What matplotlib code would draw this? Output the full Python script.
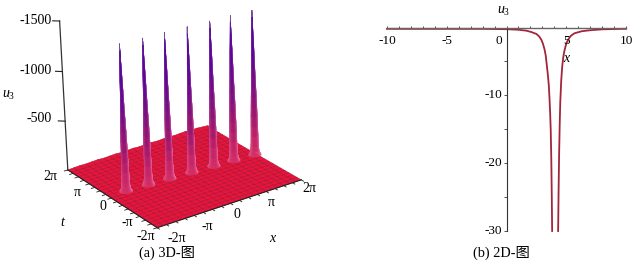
import numpy as np
import matplotlib
matplotlib.use("Agg")
import matplotlib.pyplot as plt
from matplotlib.colors import LinearSegmentedColormap

plt.rcParams['font.family'] = ['Liberation Serif', 'Noto Sans CJK SC', 'DejaVu Sans']
plt.rcParams['mathtext.fontset'] = 'custom'
plt.rcParams['mathtext.it'] = 'Liberation Serif:italic'
plt.rcParams['mathtext.rm'] = 'Liberation Serif'

PI = np.pi
W, H = 640, 264

# 3D panel values
spike_x = [-4.82, -2.95, -1.16, 0.7, 2.6, 4.33, 6.15]
spike_t = [0.33, 0.2, 0.1, -0.05, -0.15, -0.25, -0.4]
profile_z = [0, 25, 60, 100, 200, 300, 400, 500, 600, 700, 800, 900, 1000, 1100, 1200, 1300, 1400, 1460]
profile_r = [0.48, 0.36, 0.31, 0.29, 0.27, 0.255, 0.24, 0.22, 0.2, 0.175, 0.15, 0.13, 0.11, 0.09, 0.065, 0.042, 0.02, 0.004]
back_ripple = [0, -3, -6, -4, -7, -10, -6, -9, -12, -8, -11, -14, -10, -13, -16, -11, -14, -18, -13, -16, -20, -14, -17, -12, -8]
z_ticks = [-500, -1000, -1500]
z_labels = ['-500', '-1000', '-1500']
t_labels = ['2π', 'π', '0', '-π', '-2π']
x_labels = ['-2π', '-π', '0', 'π', '2π']

# 2D panel values
curve_x = [-10, -5, -2, 0, 1, 1.67, 2.1, 2.51, 2.75, 2.93, 3.05, 3.18, 3.28, 3.37, 3.45, 3.54, 3.6, 3.65, 3.7, 3.75, 3.79, 3.82]
curve_y = [-0.2, -0.2, -0.2, -0.25, -0.33, -0.47, -0.68, -0.96, -1.35, -1.85, -2.4, -3.2, -4.1, -5.5, -6.8, -8.5, -10.5, -12.5, -15, -19.5, -25, -30]
curve2_x = [4.32, 4.36, 4.4, 4.45, 4.5, 4.58, 4.66, 4.75, 4.85, 5.0, 5.13, 5.4, 5.69, 6.3, 6.95, 8, 9.7, 10]
curve2_y = [-30, -24, -19, -14.5, -11, -7.8, -5.8, -4.4, -3.4, -2.4, -1.85, -1.2, -0.85, -0.55, -0.41, -0.27, -0.2, -0.2]
xtick_labels = ['-10', '-5', '0', '5', '10']
ytick_labels = ['-10', '-20', '-30']

fig = plt.figure(figsize=(W / 100, H / 100), dpi=100)

# camera found by fitting the floor corners of the picture
AZIM = -123.34
ax = fig.add_axes([36.3 / W, 18.3 / H, 282 / W, 282 / H], projection='3d', computed_zorder=False)
ax.set_xlim(-2 * PI, 2 * PI)
ax.set_ylim(-2 * PI, 2 * PI)
ax.set_zlim(0, -1500)
ax.view_init(elev=23.86, azim=AZIM, roll=1.96)
ax.set_proj_type('persp', focal_length=1.635)
ax.set_box_aspect((1, 0.947, 0.942))
ax.set_axis_off()

# floor
n = len(back_ripple)
g = np.linspace(-2 * PI, 2 * PI, n)
GX, GT = np.meshgrid(g, g)
GZ = np.zeros_like(GX)
GZ[-1, :] = back_ripple
ax.plot_surface(GX, GT, GZ, color='#e8143c', edgecolor='#a80f30', linewidth=0.35, shade=False,
                rcount=n, ccount=n, zorder=2)

# spikes
cmap = LinearSegmentedColormap.from_list('spike', [(0, '#fa3a78'), (0.08, '#e62a78'), (0.25, '#b81a80'),
                                                   (0.45, '#8a1296'), (0.65, '#6a08b0'), (0.85, '#5c0cb4'),
                                                   (0.95, '#9468b8'), (1, '#b5b5b5')])
ang = np.linspace(0, 2 * PI, 25)
prof_z = np.array(profile_z, float)
prof_r = np.array(profile_r)
A, Zp = np.meshgrid(ang, prof_z)
R = np.tile(prof_r[:, None], (1, len(ang)))
side = np.sin(A - np.radians(AZIM))
mix = np.abs(side) ** 3 * np.where(side > 0, 0.6, 0.3)
pale = np.array([1.0, 0.62, 0.85])
cols = cmap(Zp / 1500)
cols[..., :3] = cols[..., :3] * 0.85 * (1 - mix[..., None]) + pale * mix[..., None]
for k in range(len(spike_x)):
    ax.plot_surface(spike_x[k] + R * np.cos(A), spike_t[k] + R * np.sin(A), -Zp, facecolors=cols,
                    linewidth=0.2, shade=False, rcount=len(prof_z), ccount=len(ang), zorder=3 + k)

# axis lines and ticks
ax.plot([-2 * PI] * 2, [2 * PI] * 2, [0, -1500], color='#333333', lw=0.9, zorder=20)
ax.plot([-2 * PI, -2 * PI], [2 * PI, -2 * PI], [0, 0], color='#222222', lw=0.8, zorder=20)
ax.plot([-2 * PI, 2 * PI], [-2 * PI, -2 * PI], [0, 0], color='#222222', lw=0.8, zorder=20)
for tk in np.arange(-8, 9) * PI / 4:
    ax.plot([-2 * PI, -2 * PI - 0.3], [tk, tk], [0, 0], color='#222222', lw=0.6, zorder=20)
    ax.plot([tk, tk], [-2 * PI, -2 * PI - 0.3], [0, 0], color='#222222', lw=0.6, zorder=20)
for zt in z_ticks:
    ax.plot([-2 * PI, -2 * PI - 0.37], [2 * PI, 2 * PI + 0.37], [zt, zt], color='#222222', lw=0.8, zorder=20)


def label(px, py, s, size=10, **kw):
    fig.text(px / W, 1 - py / H, s, ha=kw.pop('ha', 'center'), va='center', fontsize=size, **kw)


for lab, py in zip(z_labels, [119, 70, 21]):
    label(52, py, lab, ha='right')
for lab, px, py in zip(t_labels, [50, 77, 103, 127, 146], [177, 192, 207, 222, 237]):
    label(px, py, lab)
for lab, px, py in zip(x_labels, [177, 207, 237, 271, 309], [239, 227, 215, 202, 188]):
    label(px, py, lab)
label(9, 95, r'$u_3$')
label(62, 223, 't', style='italic')
label(272, 239, 'x', style='italic')
label(167, 253, '(a) 3D-图', size=10.3)

# 2D panel
ax2 = fig.add_axes([387 / W, 1 - 231 / H, (626 - 387) / W, (231 - 27.5) / H])
ax2.patch.set_alpha(0)
ax2.plot(curve_x, curve_y, color='#a3253b', lw=1.3, clip_on=False)
ax2.plot(curve2_x, curve2_y, color='#a3253b', lw=1.3, clip_on=False)
ax2.set_xlim(-10, 10)
ax2.set_ylim(-30, 0)
for sp in ['right', 'bottom']:
    ax2.spines[sp].set_visible(False)
ax2.spines['left'].set_position(('data', 0))
ax2.spines['left'].set_color('#333333')
ax2.spines['left'].set_linewidth(0.8)
ax2.spines['top'].set_color('#666666')
ax2.spines['top'].set_linewidth(1.0)
ax2.xaxis.tick_top()
ax2.set_xticks(np.arange(-10, 11))
ax2.set_xticklabels([])
ax2.set_yticks(np.arange(-30, 0, 5))
ax2.set_yticklabels([])
ax2.tick_params(axis='x', length=1.6, width=0.6, direction='out', color='#333333')
ax2.tick_params(axis='y', length=2.0, width=0.6, direction='out', color='#333333')
for lab, px in zip(xtick_labels, [387, 447, 499, 567, 626]):
    label(px, 41, lab, size=9.5)
for lab, py in zip(ytick_labels, [95, 163, 231]):
    label(502, py, lab, size=9.5, ha='right')
label(566, 58, 'x', style='italic')
label(504, 11, r'$u_3$')
label(501, 253, '(b) 2D-图', size=10.3)

fig.savefig('out.png', dpi=100)
